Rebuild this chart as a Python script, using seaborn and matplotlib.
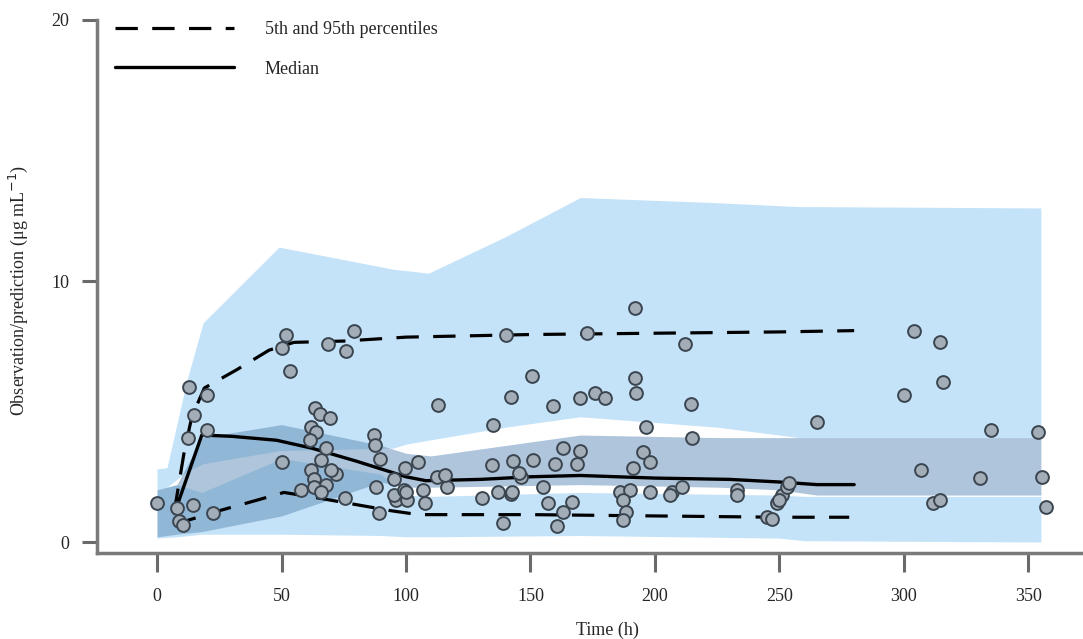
import numpy as np
import pandas as pd
import matplotlib.pyplot as plt
import seaborn as sns
from matplotlib.lines import Line2D

# observed concentrations (time h, value)
obs_t = [0, 8, 9, 10.5, 14.5, 12.5, 13, 15, 20, 20, 22.5,
         50, 50, 52, 53.5, 68.5, 76, 79,
         63.5, 65.5, 69.5, 62, 64, 61.5, 68, 66, 62, 72, 63, 68, 63, 58, 66, 75.5, 70,
         87, 87.5, 89.5, 88, 89,
         95, 96, 95, 99.5, 105, 99, 100.5, 100, 107, 107.5, 112.5, 116.5, 115.5, 113,
         130.5, 135, 134.5, 137, 142, 143, 142, 139, 146, 145.5, 151, 159, 160.5,
         140, 150.5, 170, 176, 180, 172.5,
         155, 157, 160, 163, 170, 168.5, 166.5, 163, 142.5,
         192, 192, 192.5, 212, 214.5, 196.5, 215,
         191, 195, 198, 186, 190, 187, 188.5, 187, 198, 207, 211, 206,
         233, 233, 245, 247, 249, 251, 253, 254, 250, 265,
         300, 304, 314.5, 315.5, 307, 311.5, 314.5, 330.5, 335, 354, 355.5, 357]
obs_v = [1.5, 1.3, 0.8, 0.65, 1.4, 4.0, 5.95, 4.85, 5.65, 4.3, 1.1,
         3.05, 7.45, 7.95, 6.55, 7.6, 7.3, 8.1,
         5.15, 4.9, 4.75, 4.4, 4.2, 3.9, 3.6, 3.15, 2.75, 2.6, 2.4, 2.2, 2.1, 2.0, 1.9, 1.7, 2.75,
         4.1, 3.7, 3.2, 2.1, 1.1,
         2.4, 1.6, 1.8, 2.85, 3.05, 2.0, 1.6, 1.9, 2.0, 1.5, 2.5, 2.1, 2.55, 5.25,
         1.7, 4.5, 2.95, 1.9, 5.55, 3.1, 1.85, 0.72, 2.5, 2.65, 3.15, 5.2, 0.6,
         7.95, 6.35, 5.5, 5.7, 5.5, 8.0,
         2.1, 1.5, 3.0, 3.6, 3.5, 3.0, 1.55, 1.15, 1.9,
         8.95, 6.3, 5.7, 7.6, 5.3, 4.4, 4.0,
         2.85, 3.45, 3.05, 1.9, 2.0, 1.6, 1.15, 0.85, 1.9, 1.9, 2.1, 1.8,
         2.0, 1.8, 0.95, 0.9, 1.5, 1.8, 2.1, 2.25, 1.6, 4.6,
         5.65, 8.1, 7.65, 6.15, 2.75, 1.5, 1.6, 2.45, 4.3, 4.2, 2.5, 1.35]

# observed percentiles
med_t = [7, 18, 30, 48, 62, 80, 100, 108, 130, 150, 170, 200, 230, 250, 265, 280]
med_v = [1.1, 4.1, 4.05, 3.9, 3.6, 3.1, 2.5, 2.35, 2.4, 2.5, 2.55, 2.45, 2.4, 2.3, 2.2, 2.2]
p95_t = [7, 11, 14, 19, 32, 45, 55, 75, 100, 150, 200, 250, 280]
p95_v = [1.2, 3.5, 4.8, 5.9, 6.6, 7.35, 7.65, 7.7, 7.85, 7.95, 8.0, 8.05, 8.1]
p05_t = [7, 13, 25, 40, 51, 64, 76, 94, 105, 150, 200, 250, 278]
p05_v = [0.65, 0.85, 1.2, 1.6, 1.9, 1.7, 1.5, 1.2, 1.05, 1.05, 1.0, 0.95, 0.95]

# prediction interval bands
up_t = [0, 4, 12, 18.5, 49, 95, 100, 109, 140, 170, 225, 258, 265, 355]
up_hi = [2.8, 2.85, 6.2, 8.4, 11.3, 10.45, 10.4, 10.3, 11.7, 13.2, 13.0, 12.85, 12.85, 12.8]
up_lo = [2.0, 2.1, 2.7, 3.0, 3.5, 3.6, 3.75, 3.9, 4.4, 4.8, 4.4, 4.0, 4.0, 4.0]

md_t = [0, 8, 18, 50, 90, 100, 110, 140, 170, 226, 250, 265, 355]
md_hi = [2.0, 2.2, 4.0, 4.5, 3.7, 3.4, 3.3, 3.7, 4.1, 4.0, 4.0, 4.0, 4.0]
md_lo = [0.2, 0.3, 0.4, 1.0, 2.3, 2.1, 2.1, 2.15, 2.2, 2.1, 2.0, 1.8, 1.8]

lo_t = [0, 8, 18, 50, 90, 100, 110, 170, 250, 260, 355]
lo_hi = [2.0, 2.2, 1.9, 3.2, 2.6, 1.8, 1.75, 1.9, 1.8, 1.75, 1.75]
lo_lo = [0.15, 0.2, 0.3, 0.3, 0.25, 0.2, 0.2, 0.25, 0.15, 0.05, 0.0]

xticks = [0, 50, 100, 150, 200, 250, 300, 350]
yticks = [0, 10, 20]

sns.set_style("white")
plt.rcParams['font.family'] = 'serif'
plt.rcParams['font.serif'] = ['Liberation Serif', 'DejaVu Serif']
plt.rcParams['font.size'] = 13

fig = plt.figure(figsize=(10.83, 6.39), dpi=100)
ax = fig.add_axes([97 / 1083, 86 / 639, 986 / 1083, 533 / 639])

light = "#8cc8f2"
ax.fill_between(up_t, up_lo, up_hi, color=light, alpha=0.5, lw=0, zorder=1)
ax.fill_between(lo_t, lo_lo, lo_hi, color=light, alpha=0.5, lw=0, zorder=1)
ax.fill_between(md_t, md_lo, md_hi, color="#5f8cb8", alpha=0.5, lw=0, zorder=2)

dash = (0, (7, 4.5))
sns.lineplot(x=p95_t, y=p95_v, ax=ax, color="black", lw=2.3, linestyle=dash, errorbar=None, zorder=3)
sns.lineplot(x=p05_t, y=p05_v, ax=ax, color="black", lw=2.3, linestyle=dash, errorbar=None, zorder=3)
sns.lineplot(x=med_t, y=med_v, ax=ax, color="black", lw=2.4, errorbar=None, zorder=3)

obs = pd.DataFrame({"t": obs_t, "v": obs_v})
sns.scatterplot(data=obs, x="t", y="v", ax=ax, s=85, color="#a3adb8",
                edgecolor="#3a4550", linewidth=1.4, zorder=4)

ax.set_xlim(-24.1, 371.9)
ax.set_ylim(-0.42, 20)
ax.set_xticks(xticks)
ax.set_yticks(yticks)
for s in ["top", "right"]:
    ax.spines[s].set_visible(False)
for s in ["left", "bottom"]:
    ax.spines[s].set_color("#7a7a7a")
    ax.spines[s].set_linewidth(2.5)
ax.tick_params(axis="x", bottom=True, direction="out", length=13.5, width=2.2,
               color="#6a6a6a", pad=12, labelsize=13)
ax.tick_params(axis="y", left=True, direction="out", length=11, width=2.2,
               color="#6a6a6a", pad=9, labelsize=13)

ax.set_xlabel("Time (h)", fontsize=13)
ax.xaxis.set_label_coords((607 - 97) / 986, -(622 - 553) / 533)
ax.set_ylabel("Observation/prediction (μg mL$^{-1}$)", fontsize=13)
ax.yaxis.set_label_coords(-(97 - 30) / 986, (553 - 290) / 533)

handles = [Line2D([], [], color="black", lw=2.3, linestyle=dash),
           Line2D([], [], color="black", lw=2.4)]
ax.legend(handles, ["5th and 95th percentiles", "Median"], frameon=False,
          loc="upper left", bbox_to_anchor=(115 / 1083, 1 - 21 / 639),
          bbox_transform=fig.transFigure, borderpad=0, borderaxespad=0,
          handlelength=6.6, handletextpad=1.7, labelspacing=1.25, fontsize=13)

fig.savefig("out.png", dpi=100)
